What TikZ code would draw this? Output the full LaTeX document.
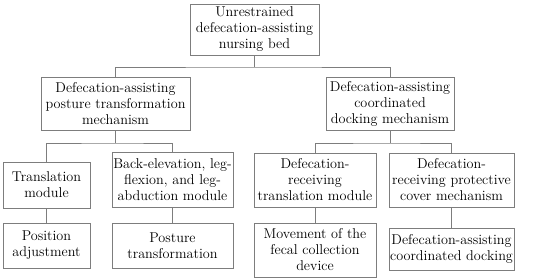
\documentclass[tikz,border=0pt]{standalone}
\begin{document}
\begin{tikzpicture}[x=1pt,y=-1pt,
  box/.style={draw=linegray,line width=0.8pt,align=center,inner sep=0pt,
    font=\fontsize{14.2}{16}\selectfont,text=black},
  conn/.style={draw=linegray,line width=0.8pt}]
\definecolor{linegray}{RGB}{125,125,125}
\useasboundingbox (0,0) rectangle (550,278);
\node[box,minimum width=129pt,minimum height=51pt] (top) at (254.5,29.5) {Unrestrained\\defecation-assisting\\nursing bed};
\node[box,minimum width=149pt,minimum height=53pt] (L) at (115.5,103.5) {Defecation-assisting\\posture transformation\\mechanism};
\node[box,minimum width=128pt,minimum height=53pt] (R) at (390,103.5) {Defecation-assisting\\coordinated\\docking mechanism};
\node[box,minimum width=87pt,minimum height=46pt] (T1) at (46.5,185) {Translation\\module};
\node[box,minimum width=121pt,minimum height=55pt] (T2) at (172.5,179.5) {Back-elevation, leg-\\flexion, and leg-\\abduction module};
\node[box,minimum width=87pt,minimum height=45pt] (P1) at (46.5,245.5) {Position\\adjustment};
\node[box,minimum width=121pt,minimum height=45pt] (P2) at (172.5,245.5) {Posture\\transformation};
\node[box,minimum width=122pt,minimum height=54pt] (R1) at (315,180) {Defecation-\\receiving\\translation module};
\node[box,minimum width=125pt,minimum height=54pt] (R2) at (451.5,180) {Defecation-\\receiving protective\\cover mechanism};
\node[box,minimum width=122pt,minimum height=54pt] (M1) at (315,250) {Movement of the\\fecal collection\\device};
\node[box,minimum width=125pt,minimum height=42pt] (M2) at (451.5,249) {Defecation-assisting\\coordinated docking};
\coordinate (j0) at (254.5,67);
\coordinate (j1) at (115.5,143);
\coordinate (j2) at (390,143);
\draw[conn] (top.south) -- (j0);
\draw[conn] (L.north) |- (j0) -| (R.north);
\draw[conn] (L.south) -- (j1);
\draw[conn] (T1.north) |- (j1) -| (T2.north);
\draw[conn] (R.south) -- (j2);
\draw[conn] (R1.north) |- (j2) -| (R2.north);
\draw[conn] (T1.south) -- (P1.north);
\draw[conn] (T2.south) -- (P2.north);
\draw[conn] (R1.south) -- (M1.north);
\draw[conn] (R2.south) -- (M2.north);
\end{tikzpicture}
\end{document}
